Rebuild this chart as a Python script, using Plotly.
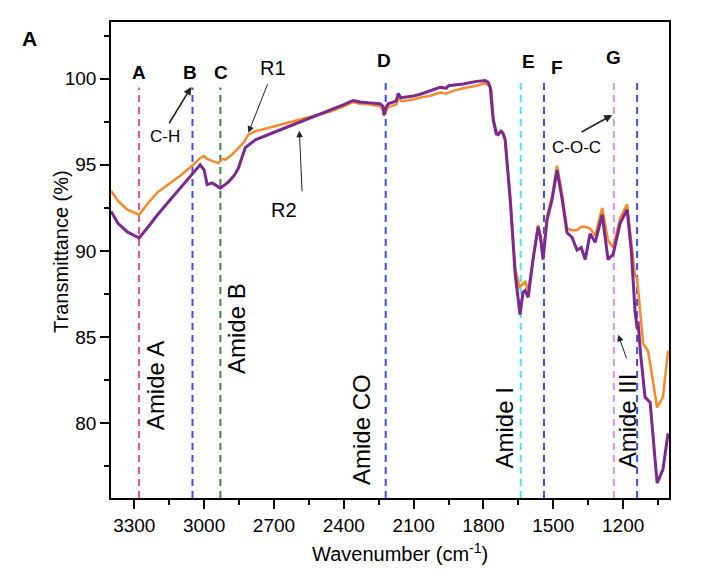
import plotly.graph_objects as go

# ---------------- data ----------------
wn_r1 = [3400, 3370, 3330, 3279, 3240, 3200, 3150, 3100, 3047, 3017, 3000, 2987, 2960, 2939, 2920,
         2909, 2880, 2853, 2830, 2810, 2780, 2737, 2652, 2579, 2458, 2400, 2360, 2330, 2287, 2244,
         2232, 2227, 2220, 2209, 2175, 2166, 2150, 2100, 2060, 2030, 1986, 1960, 1930, 1887, 1830,
         1793, 1775, 1765, 1758, 1745, 1737, 1720, 1707, 1685, 1664, 1645, 1630, 1621, 1608, 1587,
         1565, 1544, 1527, 1505, 1484, 1462, 1441, 1420, 1398, 1380, 1363, 1342, 1320, 1290, 1265,
         1243, 1213, 1183, 1160, 1149, 1140, 1130, 1114, 1093, 1054, 1029, 1007]
tr_r1 = [93.5, 92.9, 92.4, 92.1, 92.8, 93.4, 93.9, 94.4, 95.0, 95.4, 95.5, 95.35, 95.2, 95.1, 95.35,
         95.3, 95.6, 96.0, 96.3, 96.75, 96.95, 97.1, 97.4, 97.65, 98.1, 98.4, 98.65, 98.55, 98.5, 98.4,
         98.2, 97.85, 98.1, 98.35, 98.5, 98.85, 98.7, 98.8, 98.95, 99.0, 99.2, 99.15, 99.3, 99.45, 99.6,
         99.75, 99.6, 99.3, 97.7, 97.0, 96.8, 96.95, 96.5, 93.1, 89.0, 87.9, 88.1, 88.2, 87.7, 89.6,
         91.5, 89.9, 92.0, 93.2, 94.95, 93.3, 91.3, 91.2, 91.2, 91.4, 91.4, 91.3, 90.9, 92.5, 90.6,
         90.2, 91.9, 92.7, 90.0, 88.6, 88.4, 87.0, 84.6, 84.2, 80.9, 81.5, 84.2]

wn_r2 = [3400, 3370, 3330, 3279, 3240, 3200, 3150, 3100, 3047, 3017, 3000, 2987, 2965, 2945, 2931,
         2910, 2896, 2870, 2853, 2823, 2780, 2707, 2622, 2566, 2458, 2400, 2360, 2330, 2287, 2244,
         2232, 2227, 2220, 2209, 2175, 2166, 2155, 2100, 2072, 2030, 1986, 1960, 1950, 1887, 1830,
         1793, 1780, 1771, 1758, 1745, 1737, 1725, 1715, 1707, 1685, 1664, 1643, 1630, 1621, 1608,
         1587, 1565, 1555, 1544, 1527, 1505, 1484, 1462, 1441, 1420, 1398, 1380, 1363, 1342, 1320,
         1290, 1265, 1243, 1213, 1183, 1165, 1149, 1140, 1136, 1125, 1106, 1084, 1054, 1029, 1007]
tr_r2 = [92.3, 91.6, 91.1, 90.75, 91.4, 92.1, 92.9, 93.7, 94.5, 95.0, 94.7, 93.85, 93.95, 93.75, 93.65,
         93.85, 94.0, 94.4, 94.8, 96.0, 96.45, 96.85, 97.3, 97.6, 98.2, 98.5, 98.74, 98.65, 98.6, 98.55,
         98.4, 97.9, 98.3, 98.55, 98.7, 99.15, 98.9, 99.0, 99.1, 99.3, 99.5, 99.45, 99.6, 99.7, 99.85,
         99.9, 99.8, 99.5, 97.6, 96.8, 96.75, 96.95, 96.8, 96.45, 92.96, 88.7, 86.3, 87.6, 87.7, 87.3,
         89.5, 91.4, 90.8, 89.5, 91.8, 93.0, 94.7, 93.0, 91.05, 90.8, 90.05, 90.2, 89.5, 91.0, 90.5,
         92.1, 89.5, 89.8, 91.6, 92.4, 90.0, 86.5, 85.5, 85.9, 84.0, 81.5, 81.2, 76.5, 77.3, 79.4]

band_pos = [3280, 3050, 2930, 2220, 1640, 1540, 1240, 1140]
band_letters = ["A", "B", "C", "D", "E", "F", "G", ""]
band_colors = ["#E9508F", "#3C4FE2", "#3A8A35", "#3C4FE2", "#4EE3E6", "#3C4FE2", "#E08CEB", "#3C4FE2"]
band_top = [99.5, 99.5, 99.5, 100.0, 100.0, 100.0, 100.0, 100.0]

x_ticks = [3300, 3000, 2700, 2400, 2100, 1800, 1500, 1200]
y_ticks = [80, 85, 90, 95, 100]

FONT = "Arial, Liberation Sans, Helvetica, sans-serif"
Y_MIN, Y_MAX = 75.64, 103.3

fig = go.Figure()

# vertical band marker lines
for pos, col, top in zip(band_pos, band_colors, band_top):
    fig.add_shape(type="line", x0=pos, x1=pos, y0=Y_MIN, y1=top, xref="x", yref="y",
                  line=dict(color=col, width=2, dash="7px,5px"), layer="below")

fig.add_trace(go.Scatter(x=wn_r1, y=tr_r1, mode="lines", name="R1",
                         line=dict(color="#F5892B", width=2.5)))
fig.add_trace(go.Scatter(x=wn_r2, y=tr_r2, mode="lines", name="R2",
                         line=dict(color="#7A2A8F", width=3)))

ann = []
# letters above band lines
letter_y = [100.35, 100.35, 100.35, 101.05, 100.99, 100.64, 101.22]
letter_x = [3279, 3060, 2926, 2229, 1607, 1483, 1243]
for lx, ly, t in zip(letter_x, letter_y, band_letters[:7]):
    ann.append(dict(x=lx, y=ly, xref="x", yref="y", text="<b>%s</b>" % t, showarrow=False,
                    font=dict(size=19, color="black", family=FONT)))

# rotated amide labels
for tx, ty, t in [(3206, 82.15, "Amide A"), (2858, 85.47, "Amide B"), (2321, 79.6, "Amide CO"),
                  (1710, 79.7, "Amide I"), (1183, 80.1, "Amide III")]:
    ann.append(dict(x=tx, y=ty, xref="x", yref="y", text=t, textangle=-90, showarrow=False,
                    font=dict(size=24, color="black", family=FONT)))

# text labels
for tx, ty, t, s in [(3167, 96.63, "C-H", 17), (2703, 100.64, "R1", 20), (2656, 92.38, "R2", 20),
                     (1402, 95.99, "C-O-C", 17)]:
    ann.append(dict(x=tx, y=ty, xref="x", yref="y", text=t, showarrow=False,
                    font=dict(size=s, color="black", family=FONT)))

# arrows (tail -> tip)
for (x0, y0, x1, y1, w) in [(3154, 97.33, 3055, 99.53, 1.6), (2725, 99.77, 2810, 96.86, 1.0),
                           (2579, 93.37, 2591, 96.98, 1.0), (1385, 96.86, 1247, 97.9, 1.6),
                           (1183, 83.66, 1221, 85.12, 1.0)]:
    ann.append(dict(x=x1, y=y1, ax=x0, ay=y0, xref="x", yref="y", axref="x", ayref="y",
                    text="", showarrow=True, arrowhead=2, arrowsize=1.3 if w < 1.5 else 1.0,
                    arrowwidth=w, arrowcolor="#222222"))

# panel label and axis titles
ann.append(dict(x=-0.163, y=0.994, xref="paper", yref="paper", text="<b>A</b>", showarrow=False,
                font=dict(size=21, color="black", family=FONT)))
ann.append(dict(x=-0.113, y=0.519, xref="paper", yref="paper", text="Transmittance (%)",
                textangle=-90, showarrow=False, font=dict(size=20, color="black", family=FONT)))
ann.append(dict(x=0.518, y=-0.145, xref="paper", yref="paper", text="Wavenumber (cm<sup>-1</sup>)",
                showarrow=False, font=dict(size=20, color="black", family=FONT)))

# page body adds an 8px offset; figure size/margins compensate for it
fig.update_layout(
    width=693, height=573,
    margin=dict(l=103, r=32, t=14, b=83, autoexpand=False),
    paper_bgcolor="white", plot_bgcolor="white",
    showlegend=False,
    font=dict(family=FONT, color="black"),
    annotations=ann,
)
fig.update_xaxes(range=[3400, 1003], tickvals=x_ticks, ticks="outside", ticklen=9, tickwidth=1.5,
                 tickcolor="black", showline=True, linecolor="black", linewidth=1.5, mirror=True,
                 automargin=False,
                 showgrid=False, zeroline=False, tickfont=dict(size=19, family=FONT, color="black"),
                 minor=dict(ticks="outside", ticklen=5, tickwidth=1.5, tickcolor="black", dtick=150,
                            tick0=3300, showgrid=False))
fig.update_yaxes(range=[Y_MIN, Y_MAX], tickvals=y_ticks, ticks="outside", ticklen=9, tickwidth=1.5,
                 tickcolor="black", showline=True, linecolor="black", linewidth=1.5, mirror=True,
                 automargin=False,
                 showgrid=False, zeroline=False, tickfont=dict(size=19, family=FONT, color="black"),
                 minor=dict(ticks="outside", ticklen=5, tickwidth=1.5, tickcolor="black", dtick=2.5,
                            tick0=0, showgrid=False))

fig.write_html("out.html")
